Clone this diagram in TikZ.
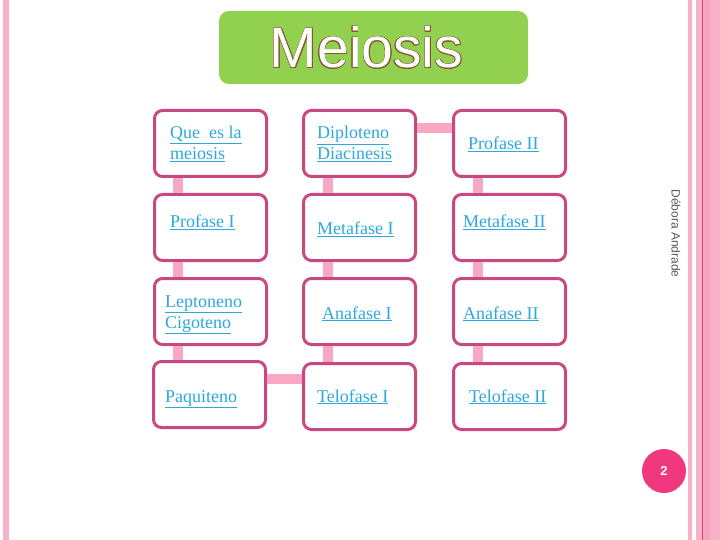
\documentclass[tikz,border=0pt]{standalone}
\usepackage{fontspec}
\setmainfont{Liberation Serif}
\setsansfont{Liberation Sans}
\usepackage{xcolor}
\usepackage{tikz}
\usepackage{contour}
\contourlength{0.6pt}

\definecolor{stripe}{HTML}{F9B1CA}
\definecolor{stripedark}{HTML}{F7A3C0}
\definecolor{rim}{HTML}{C8497F}
\definecolor{titlegreen}{HTML}{92D050}
\definecolor{linkblue}{HTML}{2DA8DC}
\definecolor{conncol}{HTML}{F8A8C3}
\definecolor{dotpink}{HTML}{F0387F}

\begin{document}
\begin{tikzpicture}[x=1pt,y=-1pt]
			\tikzstyle{stage}=[draw=rim, line width=3pt, rounded corners=8pt, fill=white, minimum width=112pt, minimum height=66pt, inner sep=0pt]
			\tikzstyle{label}=[anchor=base west, inner sep=0pt, text=linkblue, font=\fontsize{18}{21}\selectfont]
			\tikzset{conn/.style = {-, line width=10pt, draw=conncol}}

			% page frame
			\useasboundingbox (0,0) rectangle (720,540);
			\fill[stripe] (3,0) rectangle (9,540);
			\fill[stripe] (688,0) rectangle (692,540);
			\fill[stripe] (696,0) rectangle (702,540);
			\fill[stripedark] (703,0) rectangle (710,540);
			\fill[stripe] (710,0) rectangle (720,540);
			\fill[rim] (702,0) rectangle (703,540);

			% title
			\node[fill=titlegreen, rounded corners=10pt, minimum width=309pt, minimum height=73pt](title) at (373.5,47.5) {};
			\node[anchor=base, inner sep=0pt, font=\sffamily\fontsize{57}{60}\selectfont](titletext) at (366.5,68) {\contour{brown!70!black}{\textcolor{white}{Meiosis}}};

			% column 1
			\node[stage](que)  at (210.5,143.5) {};
			\node[stage](pro1) at (210.5,227.5) {};
			\node[stage](lep)  at (210.5,311.5) {};
			\node[stage](paq)  at (209.5,394.5) {};

			% column 2
			\node[stage](dip)  at (359.5,143.5) {};
			\node[stage](met1) at (359.5,227.5) {};
			\node[stage](ana1) at (359.5,311.5) {};
			\node[stage](tel1) at (359.5,396.5) {};

			% column 3
			\node[stage](pro2) at (509.5,143.5) {};
			\node[stage](met2) at (509.5,227.5) {};
			\node[stage](ana2) at (509.5,311.5) {};
			\node[stage](tel2) at (509.5,396.5) {};

			% connectors
			\coordinate(vone)   at (178,0);
			\coordinate(vtwo)   at (327.5,0);
			\coordinate(vthree) at (477.5,0);
			\coordinate(htop)   at (0,128);
			\coordinate(hbot)   at (0,379);
			\draw[conn](que.south -| vone)   to (pro1.north -| vone);
			\draw[conn](pro1.south -| vone)  to (lep.north -| vone);
			\draw[conn](lep.south -| vone)   to (paq.north -| vone);
			\draw[conn](dip.south -| vtwo)   to (met1.north -| vtwo);
			\draw[conn](met1.south -| vtwo)  to (ana1.north -| vtwo);
			\draw[conn](ana1.south -| vtwo)  to (tel1.north -| vtwo);
			\draw[conn](pro2.south -| vthree) to (met2.north -| vthree);
			\draw[conn](met2.south -| vthree) to (ana2.north -| vthree);
			\draw[conn](ana2.south -| vthree) to (tel2.north -| vthree);
			\draw[conn](dip.east |- htop) to (pro2.west |- htop);
			\draw[conn](paq.east |- hbot) to (tel1.west |- hbot);

			% labels
			\node[label](tque)  at (170,139) {\underline{Que\ \ es la}};
			\node[label](tque2) at (170,160) {\underline{meiosis}};
			\node[label](tdip)  at (317,139) {\underline{Diploteno}};
			\node[label](tdip2) at (317,160) {\underline{Diacinesis}};
			\node[label](tpro2) at (468,150) {\underline{Profase II}};
			\node[label](tpro1) at (170,228) {\underline{Profase I}};
			\node[label](tmet1) at (317,235) {\underline{Metafase I}};
			\node[label](tmet2) at (463,228) {\underline{Metafase II}};
			\node[label](tlep)  at (165,307) {\underline{Leptoneno}};
			\node[label](tlep2) at (165,328) {\underline{Cigoteno}};
			\node[label](tana1) at (322,319) {\underline{Anafase I}};
			\node[label](tana2) at (463,319) {\underline{Anafase II}};
			\node[label](tpaq)  at (165,402) {\underline{Paquiteno}};
			\node[label](ttel1) at (317,402) {\underline{Telofase I}};
			\node[label](ttel2) at (469,402) {\underline{Telofase II}};

			% author and page number
			\node[rotate=-90, inner sep=0pt, text=black!65, font=\sffamily\fontsize{12}{14}\selectfont](author) at (676,233.5) {Débora Andrade};
			\node[circle, fill=dotpink, minimum size=44pt, inner sep=0pt, text=white, font=\sffamily\bfseries\fontsize{13}{15}\selectfont](page) at (664,471) {2};
\end{tikzpicture}
\end{document}
